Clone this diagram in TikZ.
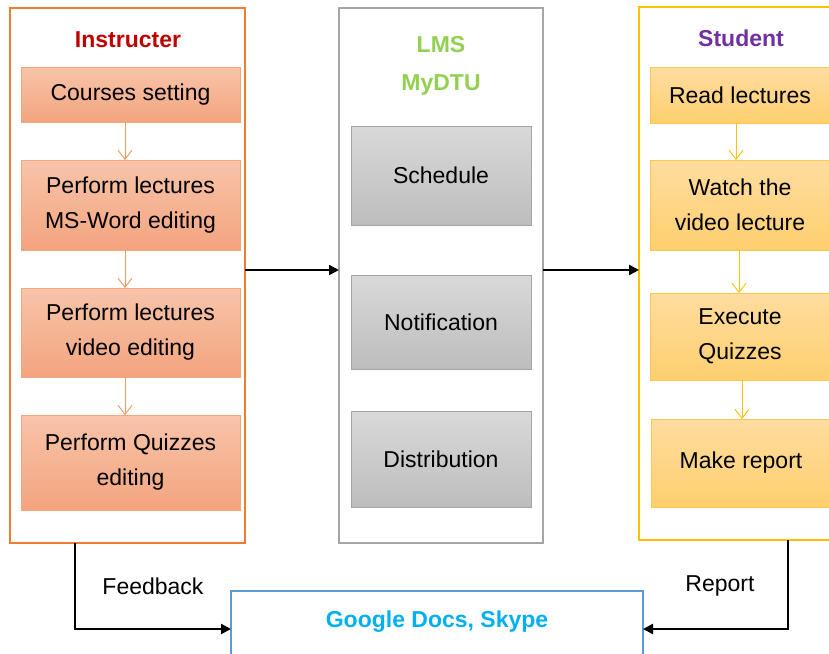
\documentclass[tikz,border=0pt]{standalone}
\usepackage{fontspec}
\setmainfont{Liberation Sans}
\usetikzlibrary{arrows.meta,calc}

% palette
\definecolor{insframe}{HTML}{ED7D31}
\definecolor{insedge}{HTML}{F4A77C}
\definecolor{instop}{HTML}{F8C4AA}
\definecolor{insbot}{HTML}{F3A47E}
\definecolor{instit}{HTML}{C00000}
\definecolor{lmsframe}{HTML}{A6A6A6}
\definecolor{lmsedge}{HTML}{A5A5A5}
\definecolor{lmstop}{HTML}{D9D9D9}
\definecolor{lmsbot}{HTML}{BDBDBD}
\definecolor{lmstit}{HTML}{92D050}
\definecolor{stuframe}{HTML}{FFC000}
\definecolor{stuedge}{HTML}{FFC84A}
\definecolor{stutop}{HTML}{FFDDA0}
\definecolor{stubot}{HTML}{FFCF6E}
\definecolor{stutit}{HTML}{7030A0}
\definecolor{gdframe}{HTML}{5B9BD5}
\definecolor{gdtit}{HTML}{00B0F0}

\newcommand\boxfont{\fontsize{23}{35}\selectfont}
\newcommand\titfont{\fontsize{23}{27}\selectfont\bfseries}

\tikzset{
  x=1pt, y=-1pt,
  frame/.style={draw, line width=2pt, anchor=north west, inner sep=0pt, outer sep=0pt},
  cell/.style={line width=0.9pt, anchor=north west, inner sep=0pt, outer sep=0pt,
    align=center, font=\boxfont, text=black},
  insbox/.style={cell, draw=insedge, top color=instop, bottom color=insbot},
  lmsbox/.style={cell, draw=lmsedge, top color=lmstop, bottom color=lmsbot},
  stubox/.style={cell, draw=stuedge, top color=stutop, bottom color=stubot},
  flowins/.style={draw=insframe!80, line width=0.9pt, -{Straight Barb[length=9pt,width=14pt]}},
  flowstu/.style={draw=stuframe, line width=0.9pt, -{Straight Barb[length=9pt,width=14pt]}},
  link/.style={draw=black, line width=2.2pt, -{Triangle[length=10pt,width=10pt]}},
  title/.style={font=\titfont, inner sep=0pt, anchor=base},
  label/.style={font=\boxfont, inner sep=0pt, text=black, anchor=base},
}

\begin{document}
\begin{tikzpicture}
\useasboundingbox (0,0) rectangle (829,653);
\clip (0,0) rectangle (829,653);

% ---- Instructer column
\node[frame, draw=insframe, minimum width=235pt, minimum height=535pt] (ins) at (10,8) {};
\node[title, text=instit] (instit) at (128,47) {Instructer};
\node[insbox, minimum width=219pt, minimum height=55pt] (i1) at (21,67) {Courses setting};
\node[insbox, minimum width=219pt, minimum height=90pt] (i2) at (21,160) {Perform lectures\\MS-Word editing};
\node[insbox, minimum width=219pt, minimum height=89pt] (i3) at (21,288) {Perform lectures\\video editing};
\node[insbox, minimum width=219pt, minimum height=95pt] (i4) at (21,415) {Perform Quizzes\\editing};
\coordinate (ix) at (125,0);
\draw[flowins] (i1.south -| ix) -- (i2.north -| ix);
\draw[flowins] (i2.south -| ix) -- (i3.north -| ix);
\draw[flowins] (i3.south -| ix) -- (i4.north -| ix);

% ---- LMS column
\node[frame, draw=lmsframe, line width=1.6pt, minimum width=204pt, minimum height=535pt] (lms) at (339,8) {};
\node[title, text=lmstit] (lmstit) at (441,52) {LMS};
\node[title, text=lmstit] (lmssub) at (441,90) {MyDTU};
\node[lmsbox, minimum width=180pt, minimum height=99pt] (l1) at (351,126) {Schedule};
\node[lmsbox, minimum width=180pt, minimum height=94pt] (l2) at (351,275) {Notification};
\node[lmsbox, minimum width=180pt, minimum height=96pt] (l3) at (351,411) {Distribution};

% ---- Student column
\node[frame, draw=stuframe, minimum width=200pt, minimum height=533pt] (stu) at (639,7) {};
\node[title, text=stutit] (stutit) at (741,46) {Student};
\node[stubox, minimum width=180pt, minimum height=56pt] (s1) at (650,67) {Read lectures};
\node[stubox, minimum width=180pt, minimum height=90pt] (s2) at (650,160) {Watch the\\video lecture};
\node[stubox, minimum width=180pt, minimum height=87pt] (s3) at (650,293) {Execute\\Quizzes};
\node[stubox, minimum width=180pt, minimum height=88pt] (s4) at (651,419) {Make report};
\coordinate (sxa) at (736,0);
\coordinate (sxb) at (739,0);
\coordinate (sxc) at (742,0);
\draw[flowstu] (s1.south -| sxa) -- (s2.north -| sxa);
\draw[flowstu] (s2.south -| sxb) -- (s3.north -| sxb);
\draw[flowstu] (s3.south -| sxc) -- (s4.north -| sxc);

% ---- links between the columns
\coordinate (mid) at (0,270);
\draw[link] (ins.east |- mid) -- (lms.west |- mid);
\draw[link] (lms.east |- mid) -- (stu.west |- mid);

% ---- shared tools
\node[frame, draw=gdframe, line width=1.6pt, minimum width=412pt, minimum height=100pt] (gd) at (231,591) {};
\node[title, text=gdtit] (gdtit) at (437,627) {Google Docs, Skype};

\coordinate (fb) at (75,629);
\coordinate (rp) at (788,629);
\draw[link] (ins.south -| fb) -- (fb) -- (gd.west |- fb);
\draw[link] (stu.south -| rp) -- (rp) -- (gd.east |- rp);
\node[label] (fbtxt) at (153,594) {Feedback};
\node[label] (rptxt) at (720,591) {Report};
\end{tikzpicture}
\end{document}
